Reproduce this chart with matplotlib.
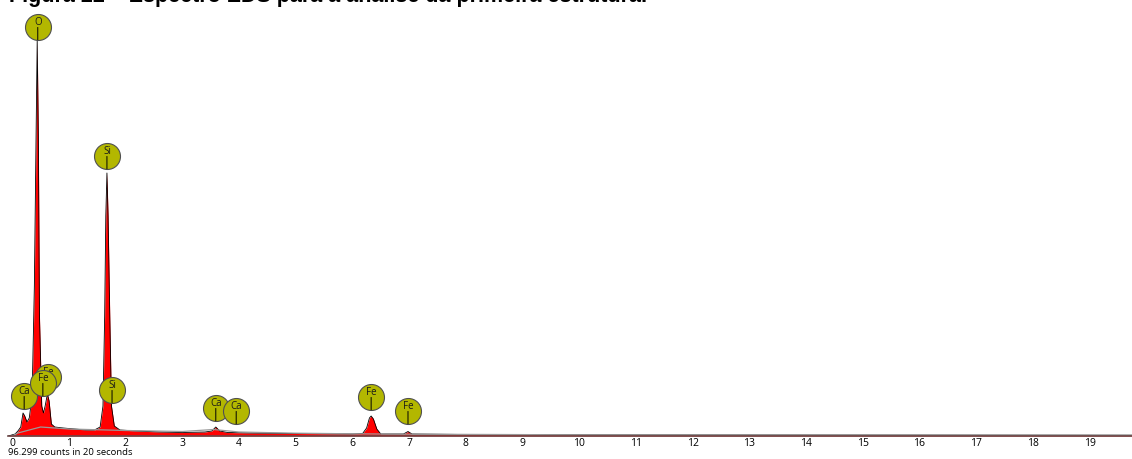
import matplotlib
matplotlib.use("Agg")
import matplotlib.pyplot as plt

# spectrum: energy (keV) and counts
energy = [-0.07, 0.05, 0.10, 0.15, 0.19, 0.22, 0.26, 0.30, 0.35, 0.39, 0.42, 0.44,
          0.46, 0.48, 0.52, 0.55, 0.58, 0.62, 0.65, 0.69, 0.75, 0.90, 1.10, 1.30,
          1.45, 1.55, 1.60, 1.63, 1.65, 1.67, 1.69, 1.72, 1.75, 1.80, 1.90, 2.20,
          2.60, 3.00, 3.40, 3.52, 3.59, 3.66, 3.80, 4.20, 5.00, 6.00, 6.18, 6.25,
          6.30, 6.33, 6.37, 6.43, 6.50, 6.90, 6.98, 7.05, 8.00, 10.0, 14.0, 19.75]
counts = [0, 20, 50, 90, 230, 200, 140, 180, 400, 1500, 3000, 3950,
          3000, 1200, 300, 230, 300, 420, 350, 120, 90, 80, 70, 60,
          60, 90, 300, 1200, 2200, 2630, 2200, 1200, 300, 100, 60, 50,
          40, 35, 40, 50, 90, 50, 35, 30, 25, 20, 25, 80,
          180, 200, 170, 70, 20, 20, 45, 20, 15, 12, 10, 8]

# fitted background (grey line)
bg_energy = [0.0, 0.1, 0.5, 1.0, 2.0, 3.0, 3.55, 4.0, 5.0, 6.0, 7.0, 10.0, 19.75]
bg_counts = [0, 30, 90, 70, 55, 45, 65, 40, 28, 22, 18, 12, 8]

# peak labels: symbol, energy of marker, height of marker centre (drawn back to front)
lbl_names = ['Ca', 'Fe', 'Fe', 'Si', 'Ca', 'Ca', 'Fe', 'Fe', 'O', 'Si']
lbl_energy = [0.21, 0.63, 0.54, 1.76, 3.59, 3.95, 6.33, 6.98, 0.45, 1.67]
lbl_counts = [400, 590, 530, 460, 280, 250, 390, 250, 4090, 2800]

x_ticks = list(range(0, 20))
title = 'Figura 22 – Espectro EDS para a análise da primeira estrutura.'
footer = '96.299 counts in 20 seconds'

FONT = ['Open Sans', 'DejaVu Sans']
CIRCLE = '#b3b700'

fig = plt.figure(figsize=(11.32, 4.59), dpi=100)
ax = fig.add_axes([8 / 1132, 23 / 459, 1 - 8 / 1132, 436 / 459])
ax.set_xlim(-0.075, 19.75)
ax.set_ylim(0, 4360)

ax.fill_between(energy, counts, 0, color='#ff0000', lw=0, zorder=2)
ax.plot(energy, counts, color='black', lw=0.6, zorder=3)
ax.plot(bg_energy, bg_counts, color='#999999', lw=0.9, zorder=4)

for i, (name, ex, cy) in enumerate(zip(lbl_names, lbl_energy, lbl_counts)):
    z = 10 + 3 * i
    ax.scatter([ex], [cy], s=350, marker='o', facecolor=CIRCLE,
               edgecolor='#505050', linewidth=0.8, zorder=z, clip_on=False)
    ax.annotate('', xy=(ex, cy), xytext=(0, -9.2), textcoords='offset points',
                xycoords='data', zorder=z + 1, annotation_clip=False,
                arrowprops=dict(arrowstyle='-', color='black', lw=0.7,
                                shrinkA=0, shrinkB=0.3))
    ax.annotate(name, xy=(ex, cy), xytext=(0, 3.0), textcoords='offset points',
                ha='center', va='center', fontsize=7, family=FONT,
                color='#1a1a1a', zorder=z + 2, annotation_clip=False)

for s in ['top', 'right', 'left']:
    ax.spines[s].set_visible(False)
ax.spines['bottom'].set_color('#6b4848')
ax.spines['bottom'].set_linewidth(1.2)
ax.spines['bottom'].set_zorder(8)
ax.set_yticks([])
ax.set_xticks(x_ticks)
ax.set_xticklabels([str(t) for t in x_ticks], family=FONT, fontsize=7.5)
ax.tick_params(axis='x', length=0, pad=1.5)

# the caption above the chart is cropped in the source, only its lower part shows
fig.text(9 / 1132, 1 - 2 / 459, title, ha='left', va='baseline',
         fontsize=15.5, fontweight='bold', family=['Liberation Sans', 'DejaVu Sans'])
fig.text(8 / 1132, 2 / 459, footer, ha='left', va='bottom',
         fontsize=6.8, family=FONT)

fig.savefig('out.png', dpi=100)
